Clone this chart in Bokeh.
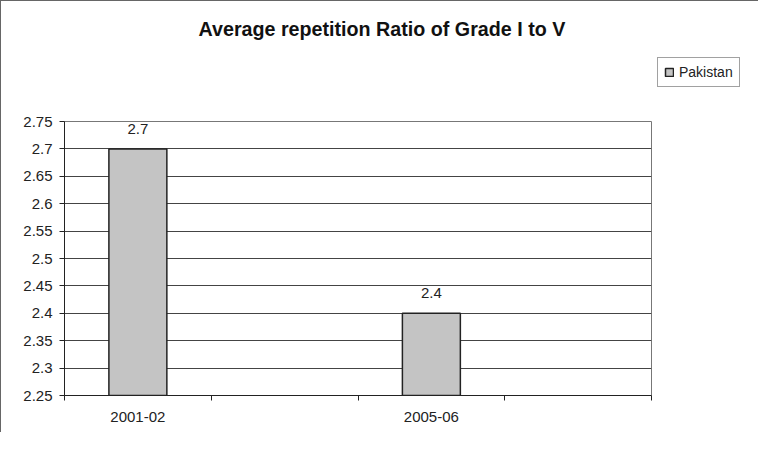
from bokeh.plotting import figure
from bokeh.models import Range1d, FixedTicker, ColumnDataSource, LabelSet, Legend, LegendItem, Title
from bokeh.core.properties import value
from bokeh.embed import file_html
from bokeh.resources import INLINE

title_text = "Average repetition Ratio of Grade I to V"
series_name = "Pakistan"
categories = ["2001-02", "2005-06"]
values = [2.7, 2.4]
value_labels = ["2.7", "2.4"]
y_ticks = [2.25, 2.3, 2.35, 2.4, 2.45, 2.5, 2.55, 2.6, 2.65, 2.7, 2.75]
y_tick_labels = ["2.25", "2.3", "2.35", "2.4", "2.45", "2.5", "2.55", "2.6", "2.65", "2.7", "2.75"]

FONT = "Liberation Sans"

# each category occupies a slot; an empty slot follows each one on the axis
slot_index = [2 * i for i in range(len(categories))]
n_slots = 2 * len(categories)
x_pos = [s + 0.5 for s in slot_index]

p = figure(frame_width=587, frame_height=274,
           x_range=Range1d(0, n_slots), y_range=Range1d(y_ticks[0], y_ticks[-1]),
           output_backend="svg", toolbar_location=None,
           min_border_left=63, min_border_right=92, min_border_bottom=37, min_border_top=0)
p.title = None
p.background_fill_color = "white"
p.border_fill_color = "white"
p.outline_line_color = "#777777"
p.outline_line_width = 1

src = ColumnDataSource(dict(x=x_pos, top=values, lab=value_labels, cat=categories))
bars = p.vbar(x="x", top="top", bottom=y_ticks[0], width=0.395, source=src,
              fill_color="#c4c4c4", line_color="#222222", line_width=1.5)

labels = LabelSet(x="x", y="top", text="lab", source=src, text_align="center",
                  text_baseline="bottom", y_offset=15, text_font=value(FONT),
                  text_font_size="15px", text_color="#222222")
p.add_layout(labels)

# axes
p.xaxis.ticker = FixedTicker(ticks=x_pos, minor_ticks=list(range(n_slots + 1)))
p.xaxis.major_label_overrides = {x: c for x, c in zip(x_pos, categories)}
p.xaxis.major_tick_out = 0
p.xaxis.major_tick_in = 0
p.xaxis.minor_tick_out = 5
p.xaxis.minor_tick_in = 0
p.xaxis.major_label_standoff = 11
p.xaxis.axis_line_color = "#222222"
p.xaxis.minor_tick_line_color = "#222222"
p.xaxis.major_label_text_font = FONT
p.xaxis.major_label_text_font_size = "15px"
p.xaxis.major_label_text_color = "#222222"

p.yaxis.ticker = FixedTicker(ticks=y_ticks)
p.yaxis.major_label_overrides = {t: l for t, l in zip(y_ticks, y_tick_labels)}
p.yaxis.major_tick_out = 5
p.yaxis.major_tick_in = 0
p.yaxis.minor_tick_line_color = None
p.yaxis.axis_line_color = "#222222"
p.yaxis.major_tick_line_color = "#222222"
p.yaxis.major_label_standoff = 7
p.yaxis.major_label_text_font = FONT
p.yaxis.major_label_text_font_size = "15px"
p.yaxis.major_label_text_color = "#222222"

p.xgrid.grid_line_color = None
p.ygrid.ticker = FixedTicker(ticks=y_ticks)
p.ygrid.grid_line_color = "#444444"
p.ygrid.grid_line_width = 1

# titles: spacer nearest the frame, then the main title, then a top spacer
p.add_layout(Title(text=" ", text_font_size="58px", text_font=FONT), "above")
p.add_layout(Title(text=title_text, align="left", offset=134, text_font=FONT,
                   text_font_size="19.7px", text_font_style="bold", text_color="#111111"), "above")
p.add_layout(Title(text=" ", text_font_size="7px", text_font=FONT, standoff=0), "above")

legend = Legend(items=[LegendItem(label=series_name, renderers=[bars])],
                location=(6, 308), label_text_font=FONT, label_text_font_size="14px",
                label_text_color="#222222", border_line_color="#444444",
                glyph_width=10, glyph_height=10, padding=6, spacing=0,
                label_standoff=5, margin=0, background_fill_alpha=1)
p.add_layout(legend, "right")

p.styles = {"border-top": "1px solid #666666", "border-left": "1px solid #666666"}

open("out.html", "w").write(file_html(p, INLINE))
